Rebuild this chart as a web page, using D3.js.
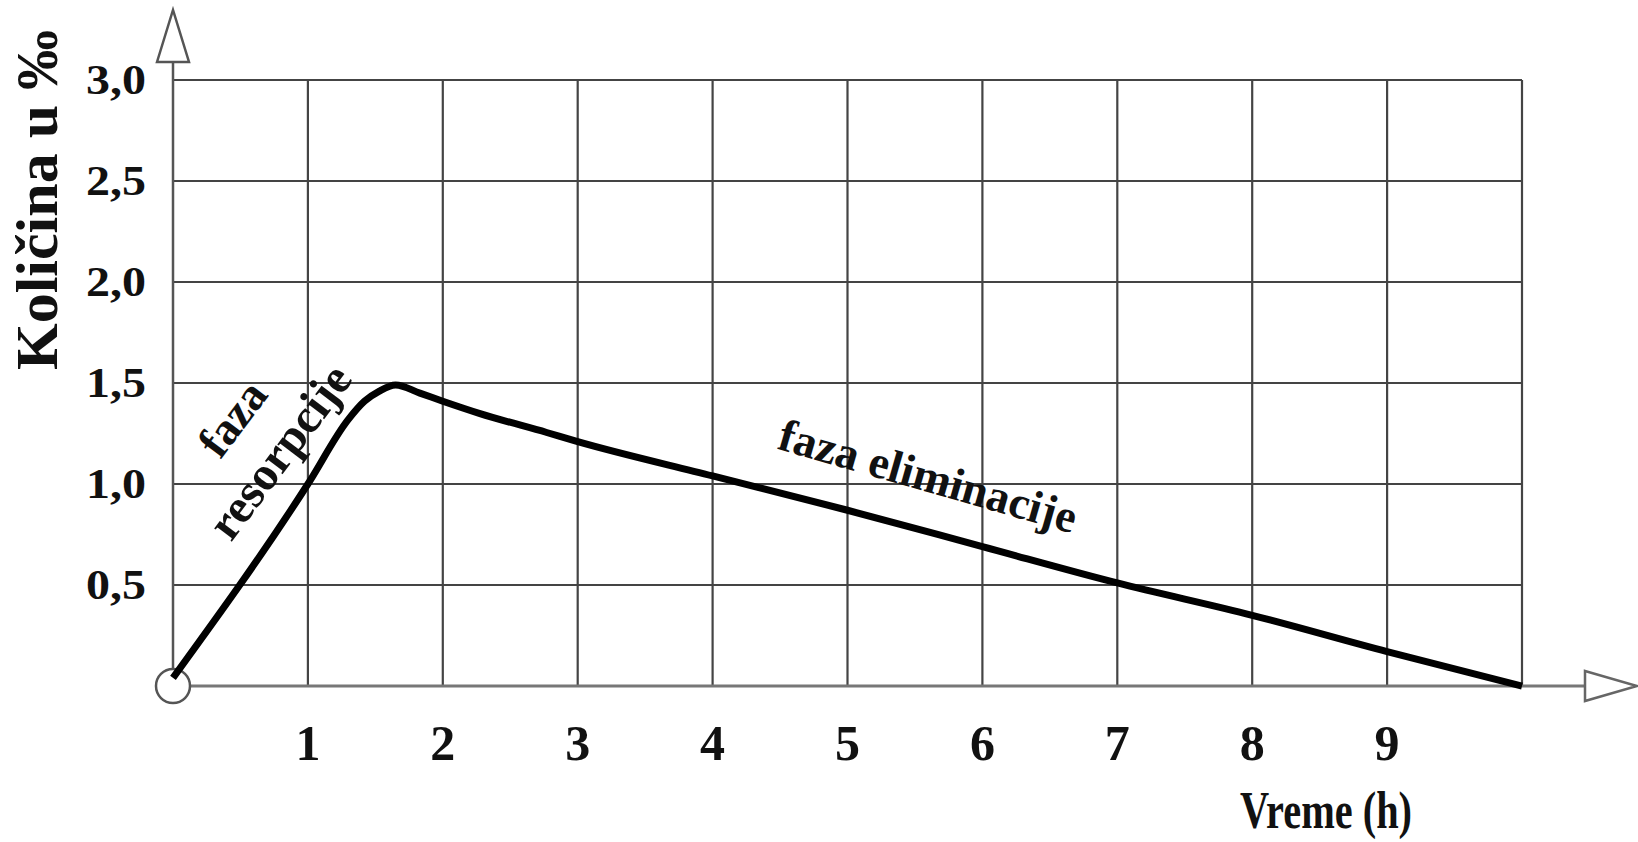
<!DOCTYPE html>
<html>
<head>
<meta charset="utf-8">
<script src="https://cdn.jsdelivr.net/npm/d3@7"></script>
<style>
  body { margin: 0; background: #fff; }
  text { font-family: "Liberation Serif", "Times New Roman", serif; font-weight: bold; fill: #111; }
</style>
</head>
<body>
<div id="chart"></div>
<script>
// data (time in hours, amount in promille)
const hours = [0, 1, 1.3, 1.42, 1.53, 1.65, 1.83, 2, 2.27, 2.77, 3, 4, 5, 6, 7, 8, 9, 10];
const promille = [0.04, 1.0, 1.32, 1.41, 1.46, 1.49, 1.45, 1.41, 1.35, 1.255, 1.21, 1.04, 0.87, 0.69, 0.51, 0.35, 0.17, 0];
const xTicks = [1, 2, 3, 4, 5, 6, 7, 8, 9];
const yTicks = [0.5, 1.0, 1.5, 2.0, 2.5, 3.0];
const xGrid = [1, 2, 3, 4, 5, 6, 7, 8, 9, 10];
const yLabel = "Količina u ‰";
const xLabel = "Vreme (h)";

class AlcoholCurve {
  constructor(_parent) {
    this.parent = _parent;
    this.width = 1638;
    this.height = 842;
    this.initVis();
  }

  initVis() {
    const vis = this;

    vis.svg = d3.select(vis.parent)
      .append("svg")
      .attr("width", vis.width)
      .attr("height", vis.height);

    vis.x = d3.scaleLinear().domain([0, 10]).range([173, 1522]);
    vis.y = d3.scaleLinear().domain([0, 3]).range([686, 80]);

    const x0 = vis.x(0), y0 = vis.y(0);

    // grid
    vis.svg.append("g")
      .selectAll("line.v")
      .data(xGrid)
      .join("line")
      .attr("x1", d => vis.x(d)).attr("x2", d => vis.x(d))
      .attr("y1", vis.y(3)).attr("y2", y0)
      .attr("stroke", "#444").attr("stroke-width", 2.2);

    vis.svg.append("g")
      .selectAll("line.h")
      .data(yTicks)
      .join("line")
      .attr("x1", x0).attr("x2", vis.x(10))
      .attr("y1", d => vis.y(d)).attr("y2", d => vis.y(d))
      .attr("stroke", "#444").attr("stroke-width", 2.2);

    // axes with open arrowheads
    vis.svg.append("line")
      .attr("x1", x0).attr("x2", x0)
      .attr("y1", y0).attr("y2", 62)
      .attr("stroke", "#555").attr("stroke-width", 2.5);
    vis.svg.append("line")
      .attr("x1", x0).attr("x2", 1585)
      .attr("y1", y0).attr("y2", y0)
      .attr("stroke", "#777").attr("stroke-width", 3);

    vis.svg.append("path")
      .attr("d", `M${x0 - 16},62 L${x0},10 L${x0 + 16},62 Z`)
      .attr("fill", "#fff").attr("stroke", "#555").attr("stroke-width", 2.5);
    vis.svg.append("path")
      .attr("d", `M1585,${y0 - 15} L1637,${y0} L1585,${y0 + 15} Z`)
      .attr("fill", "#fff").attr("stroke", "#666").attr("stroke-width", 2.5);

    vis.svg.append("circle")
      .attr("cx", x0).attr("cy", y0).attr("r", 17)
      .attr("fill", "#fff").attr("stroke", "#555").attr("stroke-width", 2.5);

    // tick labels
    vis.svg.append("g")
      .selectAll("text")
      .data(xTicks)
      .join("text")
      .attr("x", d => vis.x(d))
      .attr("y", 760)
      .attr("text-anchor", "middle")
      .style("font-size", "50px")
      .text(d => d);

    vis.svg.append("g")
      .selectAll("text")
      .data(yTicks)
      .join("text")
      .attr("x", 146)
      .attr("y", d => vis.y(d) + 14)
      .attr("text-anchor", "end")
      .attr("textLength", 60)
      .attr("lengthAdjust", "spacingAndGlyphs")
      .style("font-size", "42px")
      .text(d => d.toFixed(1).replace(".", ","));

    // axis titles
    vis.svg.append("text")
      .attr("transform", "translate(57,200) rotate(-90)")
      .attr("text-anchor", "middle")
      .style("font-size", "60px")
      .text(yLabel);

    vis.svg.append("text")
      .attr("x", 1412).attr("y", 828)
      .attr("text-anchor", "end")
      .attr("textLength", 172)
      .attr("lengthAdjust", "spacingAndGlyphs")
      .style("font-size", "52px")
      .text(xLabel);

    // curve
    const line = d3.line()
      .x((d, i) => vis.x(hours[i]))
      .y(d => vis.y(d))
      .curve(d3.curveMonotoneX);

    vis.svg.append("path")
      .datum(promille)
      .attr("d", line)
      .attr("fill", "none")
      .attr("stroke", "#000")
      .attr("stroke-width", 7)
      .attr("stroke-linejoin", "round");

    // phase labels
    vis.svg.append("text")
      .attr("transform", "translate(232,418) rotate(-53)")
      .attr("text-anchor", "middle")
      .attr("dy", "0.35em")
      .style("font-size", "46px")
      .text("faza");
    vis.svg.append("text")
      .attr("transform", "translate(279,451) rotate(-53)")
      .attr("text-anchor", "middle")
      .attr("dy", "0.35em")
      .style("font-size", "48px")
      .text("resorpcije");

    vis.svg.append("text")
      .attr("transform", "translate(924,491) rotate(16)")
      .attr("text-anchor", "middle")
      .style("font-size", "46px")
      .text("faza eliminacije");
  }
}

new AlcoholCurve("#chart");
</script>
</body>
</html>
